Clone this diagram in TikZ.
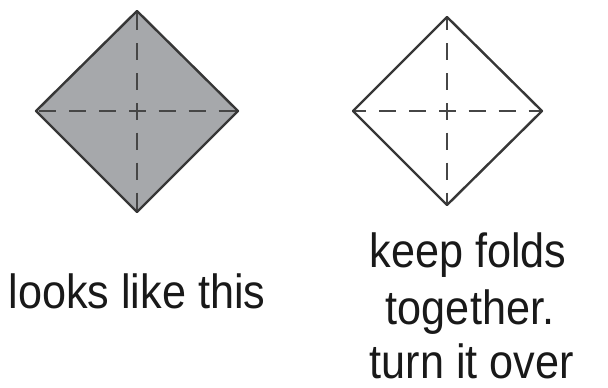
\documentclass[tikz,border=0pt]{standalone}
\usepackage{fontspec}
\setmainfont{Liberation Sans}[FakeStretch=0.9]
\definecolor{fillgray}{RGB}{166,168,171}
\definecolor{edgegray}{RGB}{55,55,55}
\definecolor{dashgray}{RGB}{70,70,70}
\begin{document}
\begin{tikzpicture}[x=1pt,y=-1pt,
  outline/.style={draw=edgegray,line width=2.4pt,line join=round},
  foldline/.style={draw=dashgray,line width=2.4pt,dash pattern=on 17pt off 13pt,dash phase=8.5pt},
  caption/.style={inner sep=0pt,anchor=base,font=\fontsize{48}{56}\selectfont,text=black!90}]
\useasboundingbox (0,0) rectangle (608,388);
% left diamond
\coordinate (lT) at (137,11);
\coordinate (lL) at (36,111);
\coordinate (lR) at (238,111);
\coordinate (lB) at (137,212);
\coordinate (lC) at (137,111);
\fill[fillgray] (lT) -- (lR) -- (lB) -- (lL) -- cycle;
\draw[foldline] (lC) -- (lT);
\draw[foldline] (lC) -- (lB);
\draw[foldline] (lC) -- (lL);
\draw[foldline] (lC) -- (lR);
\draw[outline] (lT) -- (lR) -- (lB) -- (lL) -- cycle;
% right diamond
\coordinate (rT) at (447,17);
\coordinate (rL) at (353,111);
\coordinate (rR) at (542,111);
\coordinate (rB) at (447,205);
\coordinate (rC) at (447,111);
\draw[foldline] (rC) -- (rT);
\draw[foldline] (rC) -- (rB);
\draw[foldline] (rC) -- (rL);
\draw[foldline] (rC) -- (rR);
\draw[outline] (rT) -- (rR) -- (rB) -- (rL) -- cycle;
% captions
\node[caption] (cap1) at (137,308) {looks like this};
\node[caption] (cap2) at (468,267) {keep folds};
\node[caption] (cap3) at (470,324) {together.};
\node[caption] (cap4) at (472,378) {turn it over};
\end{tikzpicture}
\end{document}
